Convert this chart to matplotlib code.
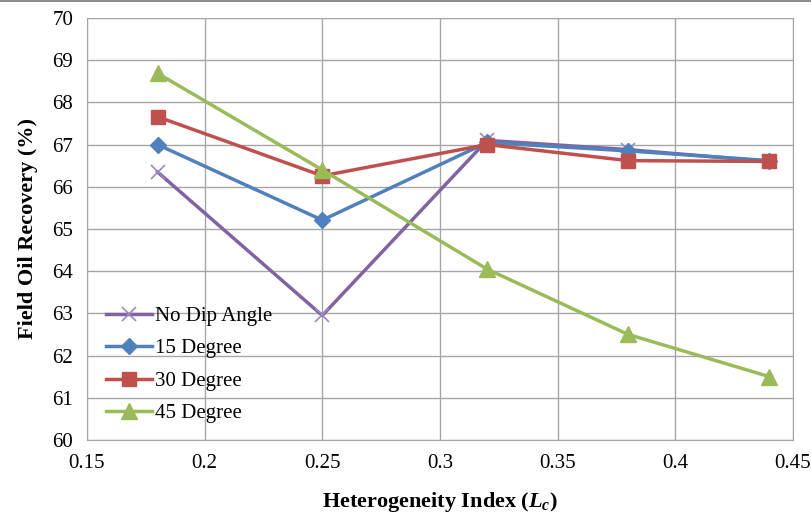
import matplotlib.pyplot as plt
import numpy as np

plt.rcParams['font.family'] = ['Liberation Serif', 'DejaVu Serif']
plt.rcParams['mathtext.fontset'] = 'custom'
plt.rcParams['mathtext.it'] = 'Liberation Serif:italic:bold'
plt.rcParams['mathtext.rm'] = 'Liberation Serif:bold'

lc = [0.18, 0.25, 0.32, 0.38, 0.44]
no_dip = [66.35, 62.95, 67.1, 66.88, 66.6]
deg15 = [67.0, 65.21, 67.05, 66.85, 66.62]
deg30 = [67.66, 66.26, 67.0, 66.62, 66.6]
deg45 = [68.69, 66.4, 64.05, 62.5, 61.5]

fig = plt.figure(figsize=(8.12, 5.14), dpi=100)
ax = fig.add_axes([0.1071, 0.144, 0.8695, 0.821])

ax.plot(lc, no_dip, color='#8064A2', lw=2.5, marker='x', ms=10, mew=1.2,
        markeredgecolor='#9C88BF', label='No Dip Angle')
ax.plot(lc, deg15, color='#4F81BD', lw=2.5, marker='D', ms=8, label='15 Degree')
ax.plot(lc, deg30, color='#C0504D', lw=2.5, marker='s', ms=10, label='30 Degree')
ax.plot(lc, deg45, color='#9BBB59', lw=2.5, marker='^', ms=11, label='45 Degree')

ax.set_xlim(0.15, 0.45)
ax.set_ylim(60, 70)
ax.set_xticks(np.arange(0.15, 0.4501, 0.05))
ax.set_xticklabels(['0.15', '0.2', '0.25', '0.3', '0.35', '0.4', '0.45'])
ax.set_yticks(range(60, 71))
ax.grid(True, color='#A6A6A6', lw=1)
ax.set_axisbelow(True)
for s in ax.spines.values():
    s.set_color('#A6A6A6')
ax.tick_params(length=0, labelsize=15, pad=10)

ax.set_xlabel(r'Heterogeneity Index ($L_c$)', fontsize=16,
              fontweight='bold', labelpad=12)
ax.set_ylabel('Field Oil Recovery (%)', fontsize=16, fontweight='bold', labelpad=10)

ax.legend(loc='lower left', bbox_to_anchor=(0.0, -0.005), frameon=False,
          fontsize=15, handlelength=2.2, labelspacing=0.62, handletextpad=0.15)

# thin gray border line along the top of the image
fig.add_artist(plt.Line2D([0, 1], [0.998, 0.998], color='#8C8C8C', lw=1.5,
                          transform=fig.transFigure))

fig.savefig('out.png', dpi=100)
